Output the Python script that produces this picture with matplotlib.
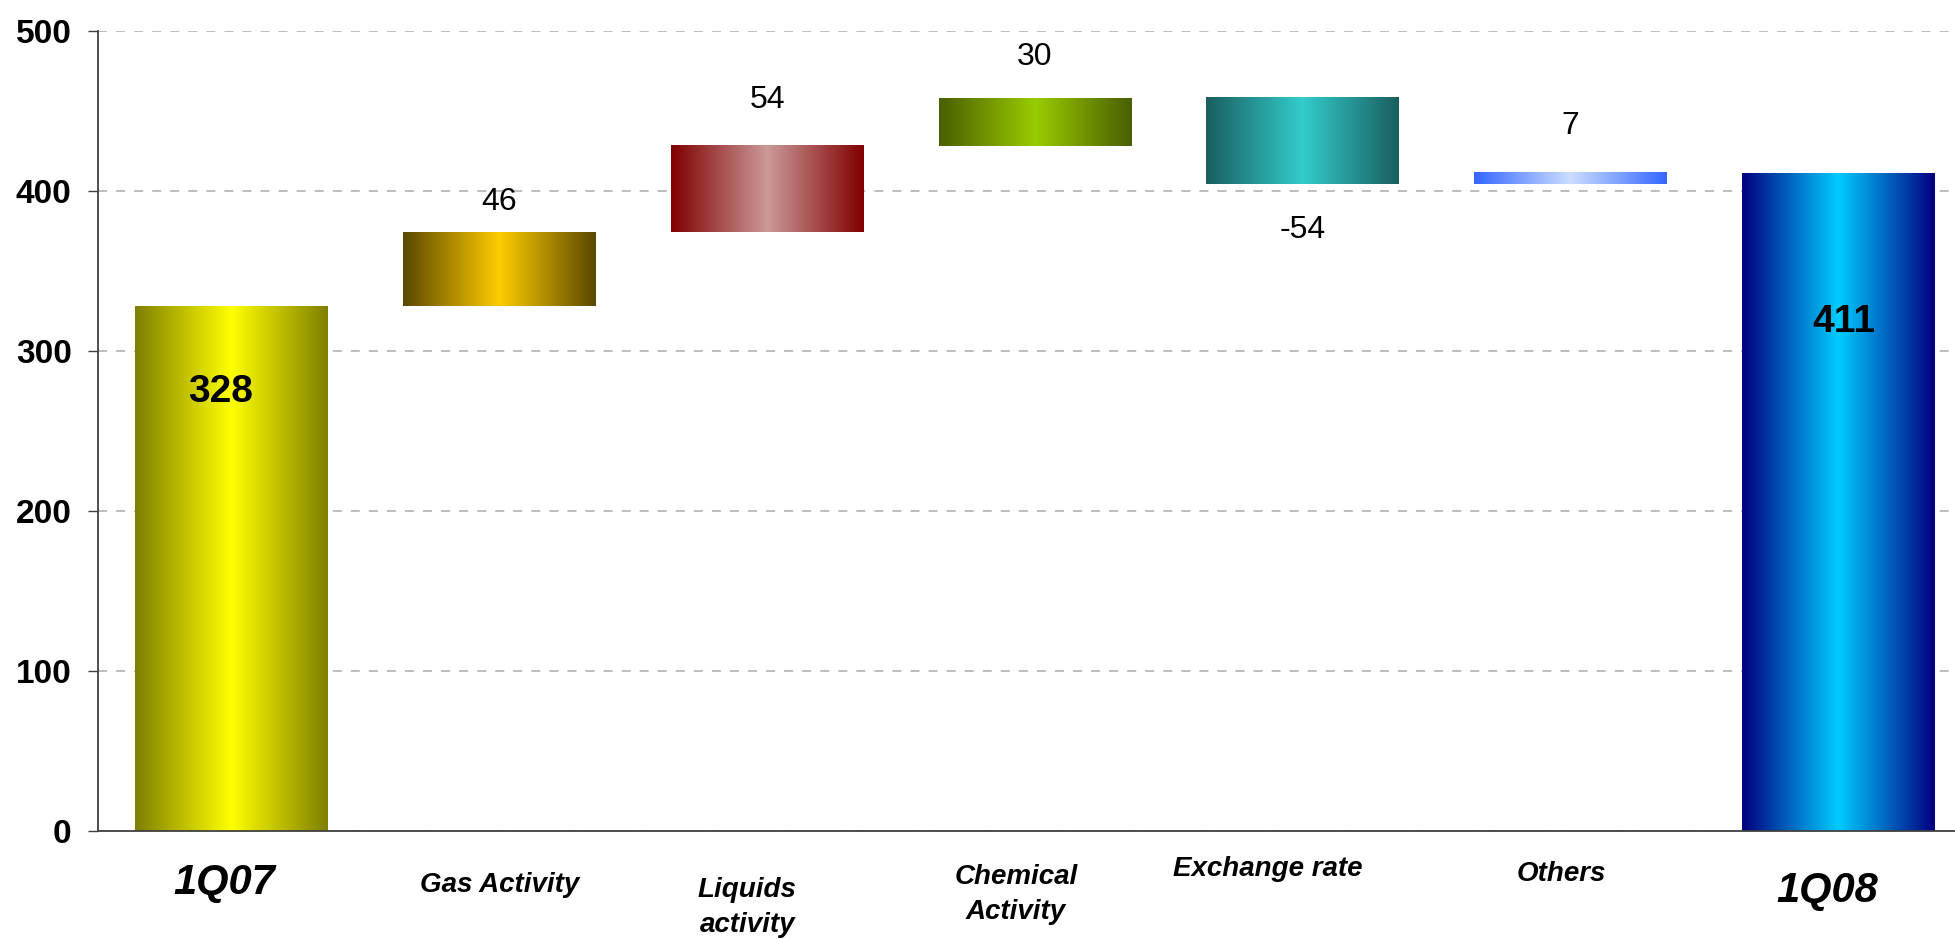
import numpy as np
import matplotlib
matplotlib.use('Agg')
import matplotlib.pyplot as plt
from matplotlib.colors import to_rgb

# ---------------- data ----------------
categories = ['1Q07', 'Gas Activity', 'Liquids\nactivity', 'Chemical\nActivity',
              'Exchange rate', 'Others', '1Q08']
start_value = 328
changes = [46, 54, 30, -54, 7]
end_value = 411
y_ticks = [0, 100, 200, 300, 400, 500]

# ---------------- style ----------------
edge_colors = ['#7F7F00', '#594800', '#800000', '#4A5E00', '#1A5E5E', '#3366FF', '#000080']
center_colors = ['#FFFF00', '#FFCC00', '#CC9999', '#99CC00', '#33CCCC', '#CCDDFF', '#00CCFF']
cat_sizes = [30, 20, 20, 20, 20, 20, 30]
cat_offsets = [(-8, -52), (0, -54), (-20, -77), (-19, -64), (-35, -38), (-9, -43), (-11, -60)]
change_offsets = [30, 46, 41, -46, 47]
total_offsets = [(-11, -86), (6, -149)]

plt.rcParams['font.family'] = ['Liberation Sans', 'DejaVu Sans']

W, H = 1955, 939
fig = plt.figure(figsize=(W / 100, H / 100), dpi=100)
y0_px, y500_px, xl_px = 830.7, 30.7, 98
ax = fig.add_axes([xl_px / W, (H - y0_px) / H, 1 - xl_px / W, (y0_px - y500_px) / H])

heights = [start_value] + changes + [end_value]
bottoms = [0]
run = start_value
for c in changes:
    bottoms.append(run)
    run += c
bottoms.append(0)
x = np.arange(len(categories))

bars = ax.bar(x, heights, bottom=bottoms, width=0.72, color='none', edgecolor='none', zorder=2)

u = np.linspace(0, 1, 256)
t = 1 - np.abs(2 * u - 1)
for patch, ec, cc in zip(bars.patches, edge_colors, center_colors):
    bb = patch.get_bbox()
    xa, xb = sorted([bb.x0, bb.x1])
    ya, yb = sorted([bb.y0, bb.y1])
    e = np.array(to_rgb(ec)); c = np.array(to_rgb(cc))
    img = e[None, :] + (c - e)[None, :] * t[:, None]
    ax.imshow(img[None, :, :], extent=[xa, xb, ya, yb], aspect='auto',
              interpolation='bilinear', zorder=2)

ax.set_xlim(-0.5, -0.5 + (W - xl_px) / 267.7)
ax.set_ylim(0, 500)
ax.set_yticks(y_ticks)
ax.set_xticks([])

ax.yaxis.grid(True, color='#b8b8b8', linestyle=(0, (5, 5)), linewidth=1.3)
ax.set_axisbelow(True)
for s in ['top', 'right']:
    ax.spines[s].set_visible(False)
for s in ['left', 'bottom']:
    ax.spines[s].set_color('#404040')
    ax.spines[s].set_linewidth(1.3)
    ax.spines[s].set_zorder(3)
ax.tick_params(axis='y', direction='out', length=7, width=1, color='#404040', pad=12, labelsize=24)
for lbl in ax.get_yticklabels():
    lbl.set_fontweight('bold')

# category labels
for i, (cat, fs, off) in enumerate(zip(categories, cat_sizes, cat_offsets)):
    ax.annotate(cat, xy=(x[i], 0), xytext=off, textcoords='offset pixels',
                ha='center', va='center', fontsize=fs, fontweight='bold', fontstyle='italic',
                multialignment='center', linespacing=1.45, annotation_clip=False)

# change labels (above the end of rising bars, below the end of falling bars)
for j, (c, off) in enumerate(zip(changes, change_offsets)):
    i = j + 1
    anchor = bottoms[i] + c
    ax.annotate(f'{c}', xy=(x[i], anchor), xytext=(0, off), textcoords='offset pixels',
                ha='center', va='center', fontsize=23)

# totals
for i, val, off in [(0, start_value, total_offsets[0]), (len(categories) - 1, end_value, total_offsets[1])]:
    ax.annotate(f'{val}', xy=(x[i], val), xytext=off, textcoords='offset pixels',
                ha='center', va='center', fontsize=28, fontweight='bold')

fig.savefig('out.png', dpi=100)
